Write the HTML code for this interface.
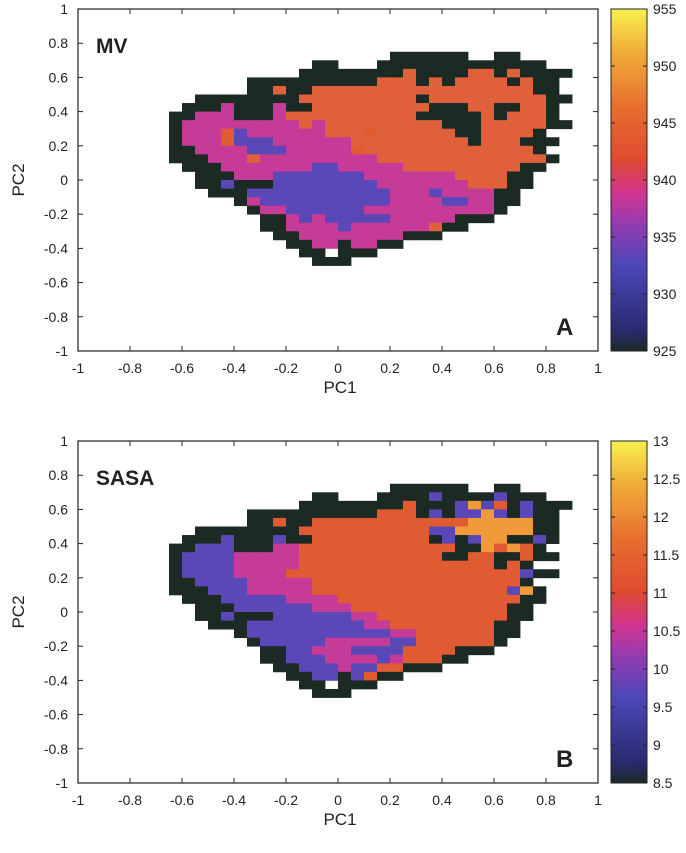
<!DOCTYPE html>
<html><head><meta charset="utf-8"><style>
html,body{margin:0;padding:0;background:#fff}
svg{display:block;font-family:"Liberation Sans",sans-serif}
</style></head><body>
<svg id="chart" width="686" height="853"></svg>
<script>
const xTicks=[-1,-0.8,-0.6,-0.4,-0.2,0,0.2,0.4,0.6,0.8,1];
const yTicks=[1,0.8,0.6,0.4,0.2,0,-0.2,-0.4,-0.6,-0.8,-1];
const cbLabelsA=["955","950","945","940","935","930","925"];
const cbLabelsB=["13","12.5","12","11.5","11","10.5","10","9.5","9","8.5"];
const gridA=[
"..................kkkkkk..kk....",
"............kk...kkkkkkkkkkkkk..",
"...........kkkkkkkk6kkkk66k6kkkk",
".......kkkkkkkkkk666k6k6666k6kk.",
".......kk6kk66666666666666666kk.",
"...kkkkkkkk666666666k666666666kk",
"..kkk4kkk4kk666666666kkk66kk66k.",
".kk444kkk46666666666kkkkk6k666k.",
".k44444444464666666666kkk66666kk",
".k444524444446665666666kk6666k..",
".k4445222444444666666666k666kkk.",
".kk44442224444456666666666666k..",
".kkk44464444444446666666666666k",
"..kkk44444442244444666666666kk",
"...kkk444222222244444446666kk",
"...kk2kkk222222224444444666kk",
"....kkk2222222222244424444kk",
"......k4222222222244442244kk",
".......k442222224444444444k",
"........kk4242222244444kkk",
"........kk444424444446kk",
".........kk44444444kkk",
"..........kk44k44kk",
"...........kk.kkk",
"............kkk"];
const gridB=[
"..................kkkkkk..kk....",
"............kk...kkkk2kkkk2kkk..",
"...........kkkkkkkk5kkk2725k2kkk",
".......kkkkkkkkkk555k2k2272k2kk.",
".......kk5kk55555555555577777kk.",
"...kkkkkkkk555555555522777777kk",
"..kkk2kkk2kk555555555k2k277kk2k.",
".kk222kkk44555555555555kk7575k.",
".k22224444455555555555kk55kk5kk",
".k222244444555555555555555k5k..",
".k222244445555555555555555552kk.",
".kk2222444445555555555555555k...",
".kkk2224444455555555555555527k",
"..kkk22222444455555555555555kk",
"...kkk222222444555555555555kk",
"...kk2kkk222222445555555555kk",
"....kkk2222222224455555555kk",
"......k2222222222244555555kk",
".......k222224444422555555k",
"........kk2244422225555kkk",
"........kk222444424555kk",
".........kk22242255kkk",
"..........kk22k25kk",
"...........kk.kkk",
"............kkk"];
const gridX0=-0.7, gridY0=0.75, cell=0.05;
const cellColors={k:"#1c2a24","2":"#5a48b8","4":"#c63a98","5":"#e05a32","6":"#e0603c","7":"#f09a3a"};
const NS="http://www.w3.org/2000/svg";
const svg=document.getElementById('chart');
function mk(tag,attrs,parent){const e=document.createElementNS(NS,tag);for(const k in attrs)e.setAttribute(k,attrs[k]);(parent||svg).appendChild(e);return e;}
function panel(top,grid,title,letter,cbLabels,pid){
  const L=78,R=598,T=top,B=top+342;
  const sx=v=>L+(v+1)/2*(R-L);
  const sy=v=>T+(1-v)/2*(B-T);
  const g=mk('g',{});
  
  
  grid.forEach((row,r)=>{
    for(let c=0;c<row.length;c++){
      const ch=row[c]; if(ch==='.')continue;
      const x0=gridX0+c*cell, y0=gridY0-r*cell;
      const rc=mk('rect',{x:sx(x0),y:sy(y0),width:sx(x0+cell)-sx(x0)+0.4,height:sy(y0-cell)-sy(y0)+0.4,fill:cellColors[ch]},g);
      
      
    }
  });
  const box=mk('rect',{x:L,y:T,width:R-L,height:B-T,fill:'none',stroke:'#222','stroke-width':1.2},g);
  
  
  xTicks.forEach(v=>{
    mk('line',{x1:sx(v),x2:sx(v),y1:B,y2:B-5,stroke:'#222'},g);
    mk('line',{x1:sx(v),x2:sx(v),y1:T,y2:T+5,stroke:'#222'},g);
    const t=mk('text',{x:sx(v),y:B+22,'text-anchor':'middle','font-size':14,fill:'#222'},g);
    t.textContent=String(v);
    
    
  });
  yTicks.forEach(v=>{
    mk('line',{x1:L,x2:L+5,y1:sy(v),y2:sy(v),stroke:'#222'},g);
    mk('line',{x1:R,x2:R-5,y1:sy(v),y2:sy(v),stroke:'#222'},g);
    const t=mk('text',{x:L-10,y:sy(v)+5,'text-anchor':'end','font-size':14,fill:'#222'},g);
    t.textContent=String(v);
    
    
  });
  const xt=mk('text',{x:340,y:B+42,'text-anchor':'middle','font-size':17,fill:'#222'},g);
  xt.textContent='PC1';
  
  
  const yt=mk('text',{x:0,y:0,'text-anchor':'middle','font-size':17,fill:'#222',transform:`translate(24,${sy(0)}) rotate(-90)`},g);
  yt.textContent='PC2';
  
  
  const tt=mk('text',{x:96,y:T+44,'font-size':21,'font-weight':'bold',fill:'#222'},g);
  tt.textContent=title;
  
  
  const lt=mk('text',{x:556,y:B-16,'font-size':24,'font-weight':'bold',fill:'#222'},g);
  lt.textContent=letter;
  
  
  // colorbar
  const gid='grad'+pid;
  const defs=mk('defs',{},g);
  const lg=mk('linearGradient',{id:gid,x1:0,y1:1,x2:0,y2:0},defs);
  [["0","#1a2a24"],["0.06","#2a2a70"],["0.25","#4a48b8"],["0.38","#9a3ab0"],["0.46","#d03490"],["0.56","#e04a30"],["0.72","#e8702e"],["0.88","#f0b038"],["1","#f8f050"]].forEach(s=>mk('stop',{offset:s[0],'stop-color':s[1]},lg));
  const CL=611,CR=647;
  const cb=mk('rect',{x:CL,y:T,width:CR-CL,height:B-T,fill:`url(#${gid})`,stroke:'#222','stroke-width':1},g);
  
  
  const n=cbLabels.length;
  cbLabels.forEach((lab,i)=>{
    const y=T+i*(B-T)/(n-1);
    mk('line',{x1:CL,x2:CL+4,y1:y,y2:y,stroke:'#222'},g);
    mk('line',{x1:CR,x2:CR-4,y1:y,y2:y,stroke:'#222'},g);
    const t=mk('text',{x:CR+6,y:y+5,'font-size':14,fill:'#222'},g);
    t.textContent=lab;
    
    
  });
}
panel(9,gridA,'MV','A',cbLabelsA,'a');
panel(441,gridB,'SASA','B',cbLabelsB,'b');
</script>
</body></html>
